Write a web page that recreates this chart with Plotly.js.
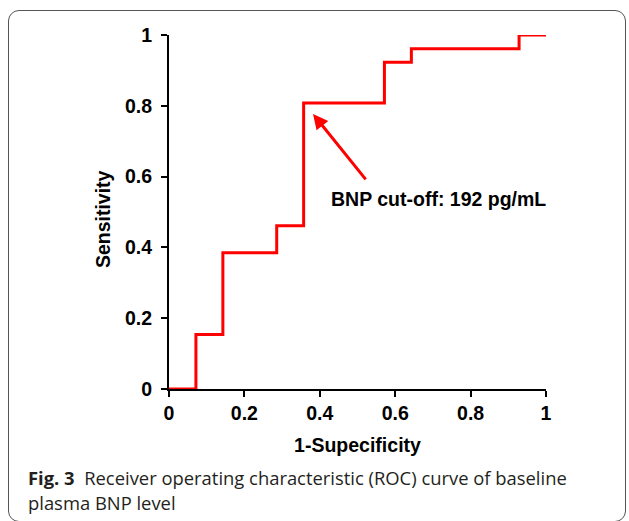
<!DOCTYPE html>
<html>
<head>
<meta charset="utf-8">
<script src="https://cdn.plot.ly/plotly-3.0.1.min.js"></script>
<style>
  html, body { margin: 0; padding: 0; background: #fff; }
  #wrap { position: relative; width: 629px; height: 521px; overflow: hidden; }
  #frame { position: absolute; left: 8px; top: 10px; width: 618px; height: 512px;
           border: 1.5px solid #555; border-radius: 11px; box-sizing: border-box; }
  #chart { position: absolute; left: 0; top: 0; width: 629px; height: 521px; }
</style>
</head>
<body>
<div id="wrap">
  <div id="frame"></div>
  <div id="chart"></div>
</div>
<script>
// ROC curve points (1-Specificity, Sensitivity)
const fpr = [0, 0.0714, 0.1429, 0.2857, 0.3571, 0.5714, 0.6429, 0.9286, 1];
const tpr = [0, 0.1538, 0.3846, 0.4615, 0.8077, 0.9231, 0.9615, 1, 1];
const tickVals = [0, 0.2, 0.4, 0.6, 0.8, 1];
const tickText = ['0', '0.2', '0.4', '0.6', '0.8', '1'];
const xTitle = '1-Supecificity';
const yTitle = 'Sensitivity';
const cutoffLabel = 'BNP cut-off: 192 pg/mL';
const captionLine1 = '<b>Fig. 3</b>\u00a0\u00a0Receiver operating characteristic (ROC) curve of baseline';
const captionLine2 = 'plasma BNP level';

const F = 'Liberation Sans, Arial, sans-serif';
const trace = {
  x: fpr, y: tpr, type: 'scatter', mode: 'lines',
  line: { color: '#ff0000', width: 3, shape: 'hv' },
  hoverinfo: 'skip', showlegend: false, cliponaxis: false
};

const axisCommon = {
  range: [0, 1], tickmode: 'array', tickvals: tickVals, ticktext: tickText,
  showgrid: false, zeroline: false, showline: true, linecolor: '#000', linewidth: 2,
  ticks: 'outside', ticklen: 6, tickwidth: 2, tickcolor: '#000',
  tickfont: { family: F, size: 19.5, color: '#000', weight: 'bold' },
  fixedrange: true
};

const layout = {
  width: 629, height: 521,
  margin: { l: 169, r: 83, t: 35, b: 132 },
  paper_bgcolor: 'rgba(0,0,0,0)', plot_bgcolor: 'rgba(0,0,0,0)',
  xaxis: Object.assign({}, axisCommon, {
    title: { text: '<b>' + xTitle + '</b>', font: { family: F, size: 19.5, color: '#000' }, standoff: 15 }
  }),
  yaxis: Object.assign({}, axisCommon, { ticklabelstandoff: 5 }),
  annotations: [
    { x: -0.175, y: 0.48, xref: 'paper', yref: 'paper', text: '<b>' + yTitle + '</b>', textangle: -90,
      showarrow: false, xanchor: 'center', yanchor: 'middle',
      font: { family: F, size: 19.5, color: '#000' } },
    { x: 0.382, y: 0.777, ax: 0.525, ay: 0.588, xref: 'x', yref: 'y', axref: 'x', ayref: 'y',
      text: '', showarrow: true, arrowhead: 2, arrowsize: 1, arrowwidth: 3, arrowcolor: '#ff0000' },
    { x: 0.714, y: 0.537, xref: 'x', yref: 'y', text: '<b>' + cutoffLabel + '</b>', showarrow: false,
      font: { family: F, size: 19.5, color: '#000' }, xanchor: 'center', yanchor: 'middle' },
    { x: -0.3793, y: -0.2514, xref: 'paper', yref: 'paper', text: captionLine1, showarrow: false,
      xanchor: 'left', yanchor: 'middle', align: 'left',
      font: { family: 'Open Sans, Noto Sans, sans-serif', size: 18.4, color: '#231f20' } },
    { x: -0.3793, y: -0.322, xref: 'paper', yref: 'paper', text: captionLine2, showarrow: false,
      xanchor: 'left', yanchor: 'middle', align: 'left',
      font: { family: 'Open Sans, Noto Sans, sans-serif', size: 18.4, color: '#231f20' } }
  ]
};

Plotly.newPlot('chart', [trace], layout, { staticPlot: true, displayModeBar: false });
</script>
</body>
</html>
